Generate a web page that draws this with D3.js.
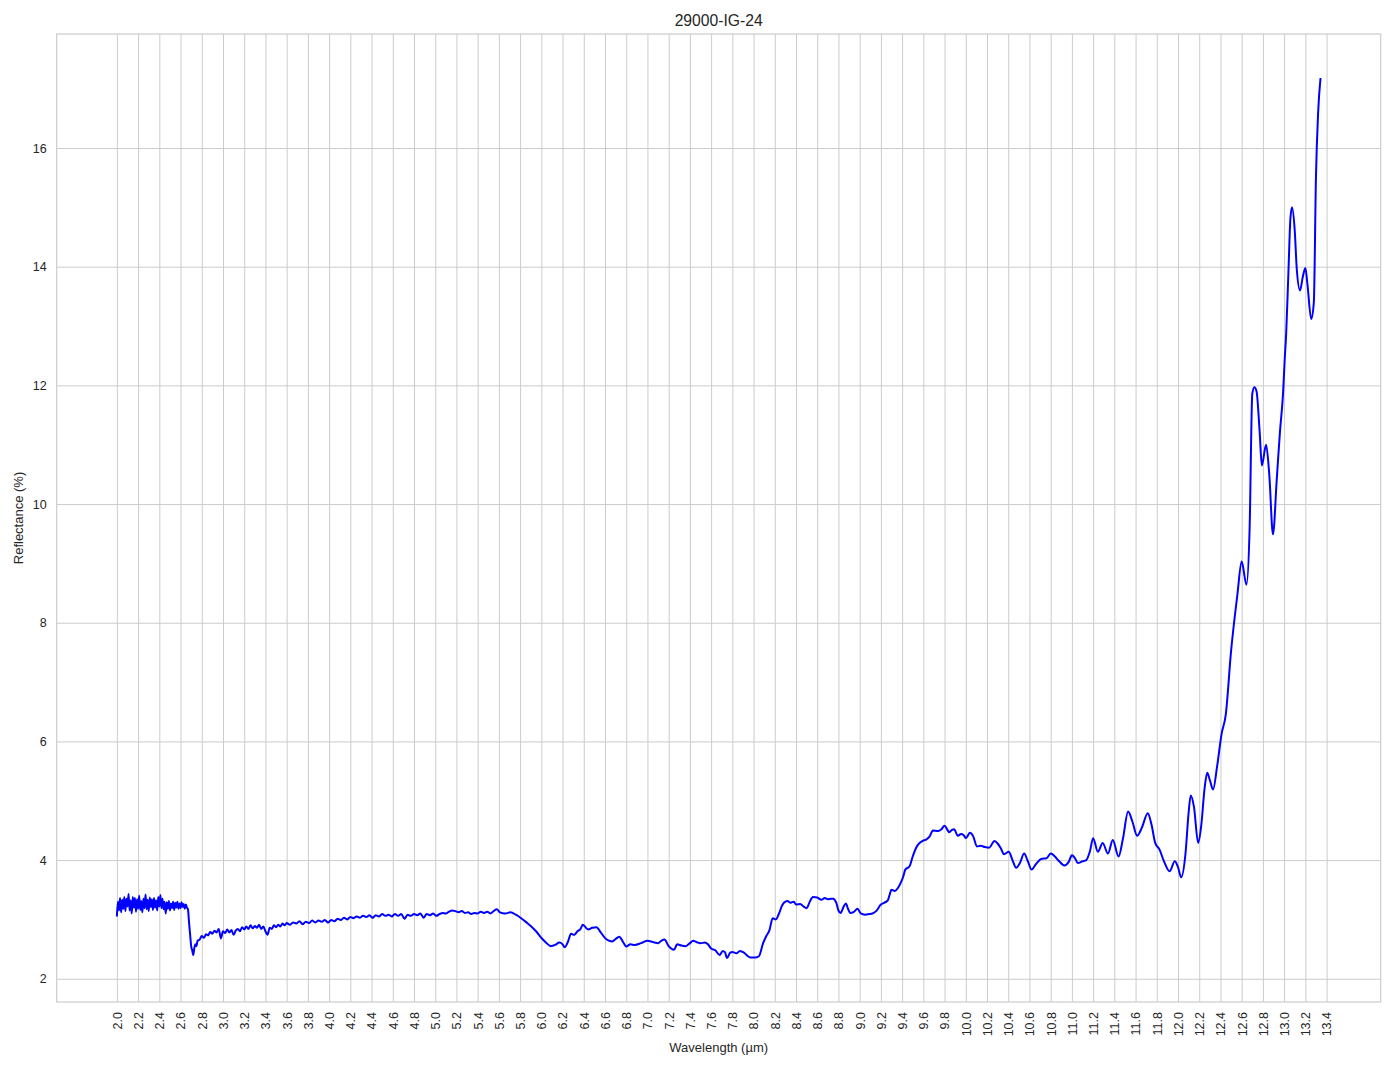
<!DOCTYPE html>
<html>
<head>
<meta charset="utf-8">
<script src="https://cdn.jsdelivr.net/npm/d3@7"></script>
<style>
  html, body { margin: 0; padding: 0; background: #fff; }
  svg { display: block; font-family: "Liberation Sans", Arial, sans-serif; }
</style>
</head>
<body>
<svg id="chart" width="1394" height="1069"></svg>
<script>
// ---------------- DATA ----------------
const chartTitle = "29000-IG-24";
const xLabel = "Wavelength (µm)";
const yLabel = "Reflectance (%)";

const xTickValues = [2.0,2.2,2.4,2.6,2.8,3.0,3.2,3.4,3.6,3.8,4.0,4.2,4.4,4.6,4.8,5.0,5.2,5.4,5.6,5.8,
  6.0,6.2,6.4,6.6,6.8,7.0,7.2,7.4,7.6,7.8,8.0,8.2,8.4,8.6,8.8,9.0,9.2,9.4,9.6,9.8,
  10.0,10.2,10.4,10.6,10.8,11.0,11.2,11.4,11.6,11.8,12.0,12.2,12.4,12.6,12.8,13.0,13.2,13.4];
const yTickValues = [2, 4, 6, 8, 10, 12, 14, 16];

// noisy region 2.0 - 2.76 µm
const wlA = [2.00,2.01,2.02,2.03,2.04,2.05,2.06,2.07,2.08,2.09,2.10,2.11,2.12,2.13,2.14,2.15,2.16,2.17,2.18,2.19,
  2.20,2.21,2.22,2.23,2.24,2.25,2.26,2.27,2.28,2.29,2.30,2.31,2.32,2.33,2.34,2.35,2.36,2.37,2.38,2.39,
  2.40,2.41,2.42,2.43,2.44,2.45,2.46,2.47,2.48,2.49,2.50,2.51,2.52,2.53,2.54,2.55,2.56,2.57,2.58,2.59,
  2.60,2.61,2.62,2.63,2.64,2.65,2.66,2.67,2.68,2.69,2.70,2.71,2.72,2.73,2.74,2.75,2.76];
const rfA = [3.05,3.30,3.15,3.36,3.12,3.33,3.18,3.38,3.14,3.35,3.22,3.43,3.15,3.32,3.10,3.38,3.20,3.36,3.13,3.34,
  3.18,3.40,3.16,3.31,3.12,3.35,3.19,3.42,3.17,3.33,3.14,3.37,3.21,3.34,3.16,3.36,3.20,3.32,3.15,3.38,
  3.22,3.41,3.19,3.35,3.17,3.30,3.10,3.29,3.18,3.31,3.15,3.27,3.19,3.30,3.16,3.28,3.20,3.30,3.18,3.27,
  3.19,3.29,3.21,3.26,3.18,3.25,3.20,3.17,2.95,2.75,2.55,2.48,2.40,2.52,2.58,2.55,2.64];

// mildly noisy region 2.78 - 5.61 µm
const wlB = [2.78,2.80,2.82,2.84,2.86,2.88,2.90,2.92,2.94,2.96,2.98,3.00,3.02,3.04,3.06,3.08,3.10,3.12,3.14,3.16,
  3.18,3.20,3.22,3.24,3.26,3.28,3.30,3.32,3.34,3.36,3.38,3.40,3.42,3.44,3.46,3.48,3.50,3.52,3.54,3.56,3.58,3.60,
  3.63,3.66,3.69,3.72,3.75,3.78,3.81,3.84,3.87,3.90,3.93,3.96,3.99,4.02,4.05,4.08,4.11,4.14,4.17,4.20,
  4.23,4.26,4.29,4.32,4.35,4.38,4.41,4.44,4.47,4.50,4.53,4.56,4.59,4.62,4.65,4.68,4.71,4.74,4.77,4.80,
  4.83,4.86,4.89,4.92,4.95,4.98,5.01,5.04,5.07,5.10,5.13,5.16,5.19,5.22,5.25,5.28,5.31,5.34,5.37,5.40,
  5.43,5.46,5.49,5.52,5.55,5.58,5.61];
const rfB = [2.66,2.72,2.69,2.75,2.73,2.79,2.76,2.81,2.78,2.84,2.68,2.80,2.77,2.83,2.78,2.82,2.74,2.81,2.84,2.80,
  2.87,2.83,2.88,2.84,2.90,2.85,2.89,2.86,2.91,2.84,2.88,2.80,2.74,2.86,2.84,2.90,2.87,2.91,2.88,2.93,2.90,2.94,
  2.91,2.95,2.93,2.97,2.92,2.96,2.94,2.98,2.95,2.98,2.96,2.99,2.95,2.99,2.97,3.01,2.99,3.03,3.00,3.04,
  3.02,3.05,3.03,3.06,3.04,3.07,3.03,3.07,3.05,3.09,3.06,3.08,3.05,3.09,3.06,3.09,3.01,3.08,3.06,3.09,
  3.07,3.10,3.03,3.09,3.07,3.10,3.06,3.09,3.11,3.10,3.13,3.15,3.14,3.12,3.14,3.11,3.12,3.09,3.11,3.10,
  3.13,3.11,3.13,3.10,3.14,3.17,3.12];

// smooth region 5.66 - 13.343 µm
const wlC = [5.66,5.71,5.76,5.81,5.86,5.90,5.95,6.01,6.05,6.09,6.13,6.17,6.20,6.22,6.25,6.28,6.31,6.34,6.37,6.39,
  6.42,6.44,6.48,6.52,6.56,6.61,6.64,6.67,6.70,6.735,6.77,6.80,6.84,6.88,6.94,7.00,7.05,7.10,7.13,7.16,
  7.20,7.25,7.28,7.32,7.36,7.40,7.43,7.46,7.50,7.54,7.57,7.60,7.64,7.68,7.71,7.73,7.75,7.78,7.80,7.84,
  7.87,7.91,7.94,7.97,8.02,8.05,8.09,8.12,8.15,8.18,8.21,8.24,8.27,8.30,8.32,8.35,8.38,8.40,8.44,8.47,
  8.50,8.53,8.56,8.60,8.64,8.67,8.70,8.73,8.75,8.78,8.80,8.82,8.85,8.87,8.89,8.91,8.94,8.98,9.01,9.05,
  9.09,9.12,9.155,9.20,9.23,9.265,9.28,9.30,9.33,9.36,9.39,9.41,9.43,9.47,9.50,9.53,9.55,9.59,9.63,9.66,
  9.69,9.74,9.77,9.80,9.83,9.845,9.87,9.89,9.925,9.955,9.98,10.00,10.04,10.07,10.105,10.14,10.18,10.22,10.27,10.30,
  10.33,10.36,10.405,10.44,10.475,10.51,10.55,10.585,10.62,10.66,10.71,10.76,10.80,10.84,10.88,10.93,10.97,11.00,11.03,11.055,
  11.10,11.135,11.17,11.20,11.245,11.29,11.34,11.385,11.44,11.48,11.53,11.57,11.615,11.66,11.715,11.75,11.785,11.825,11.87,11.92,
  11.97,12.00,12.03,12.07,12.10,12.12,12.15,12.19,12.22,12.25,12.275,12.30,12.33,12.37,12.41,12.45,12.50,12.56,12.60,12.645,
  12.675,12.70,12.72,12.74,12.77,12.79,12.83,12.86,12.895,12.93,12.96,12.99,13.005,13.02,13.04,13.06,13.075,13.10,13.12,13.15,
  13.175,13.20,13.22,13.255,13.28,13.30,13.32,13.343];
const rfC = [3.10,3.12,3.08,3.02,2.95,2.89,2.80,2.67,2.60,2.55,2.57,2.61,2.58,2.53,2.62,2.76,2.74,2.80,2.84,2.91,
  2.86,2.83,2.86,2.87,2.78,2.67,2.64,2.63,2.67,2.71,2.62,2.545,2.58,2.57,2.60,2.64,2.62,2.60,2.64,2.66,
  2.55,2.49,2.58,2.56,2.55,2.60,2.64,2.62,2.60,2.61,2.58,2.51,2.48,2.40,2.47,2.45,2.35,2.44,2.45,2.43,
  2.47,2.44,2.39,2.36,2.36,2.38,2.60,2.72,2.82,3.02,3.00,3.10,3.24,3.30,3.31,3.28,3.30,3.25,3.26,3.22,
  3.19,3.30,3.38,3.37,3.33,3.36,3.34,3.35,3.35,3.28,3.15,3.11,3.22,3.27,3.18,3.11,3.12,3.18,3.10,3.08,
  3.09,3.10,3.14,3.25,3.28,3.32,3.40,3.50,3.48,3.53,3.63,3.72,3.84,3.895,4.06,4.20,4.26,4.32,4.35,4.40,
  4.50,4.49,4.52,4.58,4.50,4.47,4.51,4.52,4.41,4.44,4.42,4.37,4.46,4.40,4.23,4.24,4.22,4.21,4.32,4.28,
  4.20,4.10,4.14,4.00,3.87,3.95,4.11,3.98,3.84,3.93,4.02,4.03,4.11,4.06,3.98,3.91,3.97,4.08,4.03,3.95,
  3.98,4.00,4.15,4.37,4.14,4.29,4.11,4.34,4.06,4.35,4.82,4.65,4.41,4.55,4.79,4.60,4.29,4.18,3.97,3.81,
  3.98,3.88,3.71,4.10,4.80,5.09,4.90,4.29,4.60,5.20,5.47,5.35,5.19,5.60,6.12,6.45,7.52,8.48,9.03,8.64,
  9.60,11.86,11.97,11.90,11.20,10.65,11.00,10.50,9.49,10.40,11.20,11.87,12.42,12.90,13.88,14.83,15.00,14.61,13.94,13.60,
  13.82,13.98,13.70,13.12,13.40,15.51,16.58,17.18];

// ---------------- CHART ----------------
const W = 1394, H = 1069;
const plot = { left: 56.7, right: 1380.7, top: 34, bottom: 1002 };
const gridColor = "#cccccc";
const textColor = "#262626";

const svg = d3.select("#chart");

const series = [];
[[wlA, rfA], [wlB, rfB], [wlC, rfC]].forEach(([w, r]) => {
  w.forEach((v, i) => series.push({ x: v, y: r[i] }));
});

// Domains with matplotlib-like 5% margins
const xExt = d3.extent(series, d => d.x);
const yExt = d3.extent(series, d => d.y);
const xPad = (xExt[1] - xExt[0]) * 0.05;
const yPad = (yExt[1] - yExt[0]) * 0.05;

const x = d3.scaleLinear().domain([xExt[0] - xPad, xExt[1] + xPad]).range([plot.left, plot.right]);
const y = d3.scaleLinear().domain([yExt[0] - yPad, yExt[1] + yPad]).range([plot.bottom, plot.top]);

// background
svg.append("rect").attr("x", 0).attr("y", 0).attr("width", W).attr("height", H).attr("fill", "#fff");

// grid via axes
const xGrid = d3.axisBottom(x).tickValues(xTickValues).tickSize(-(plot.bottom - plot.top)).tickFormat("");
svg.append("g")
  .attr("transform", `translate(0,${plot.bottom})`)
  .call(xGrid)
  .call(g => g.select(".domain").remove())
  .call(g => g.selectAll("line").attr("stroke", gridColor).attr("stroke-width", 1));

const yGrid = d3.axisLeft(y).tickValues(yTickValues).tickSize(-(plot.right - plot.left)).tickFormat("");
svg.append("g")
  .attr("transform", `translate(${plot.left},0)`)
  .call(yGrid)
  .call(g => g.select(".domain").remove())
  .call(g => g.selectAll("line").attr("stroke", gridColor).attr("stroke-width", 1));

// frame
svg.append("rect")
  .attr("x", plot.left).attr("y", plot.top)
  .attr("width", plot.right - plot.left).attr("height", plot.bottom - plot.top)
  .attr("fill", "none").attr("stroke", gridColor).attr("stroke-width", 1.2);

// x tick labels (rotated)
const xAxis = d3.axisBottom(x).tickValues(xTickValues).tickSize(0).tickFormat(d3.format(".1f"));
svg.append("g")
  .attr("transform", `translate(0,${plot.bottom})`)
  .call(xAxis)
  .call(g => g.select(".domain").remove())
  .call(g => g.selectAll("text")
    .attr("transform", "rotate(-90)")
    .attr("x", -10)
    .attr("y", 0)
    .attr("dy", "0.35em")
    .attr("text-anchor", "end")
    .attr("fill", textColor)
    .style("font-size", "12.5px")
    .style("font-family", '"Liberation Sans", Arial, sans-serif'));

// y tick labels
const yAxis = d3.axisLeft(y).tickValues(yTickValues).tickSize(0).tickFormat(d3.format("d"));
svg.append("g")
  .attr("transform", `translate(${plot.left},0)`)
  .call(yAxis)
  .call(g => g.select(".domain").remove())
  .call(g => g.selectAll("text")
    .attr("x", -10)
    .attr("fill", textColor)
    .style("font-size", "12.5px")
    .style("font-family", '"Liberation Sans", Arial, sans-serif'));

// line
const line = d3.line().x(d => x(d.x)).y(d => y(d.y)).curve(d3.curveMonotoneX);
svg.append("path")
  .datum(series)
  .attr("d", line)
  .attr("fill", "none")
  .attr("stroke", "#0000ff")
  .attr("stroke-width", 2)
  .attr("stroke-linejoin", "round");

// title & labels
svg.append("text")
  .attr("x", (plot.left + plot.right) / 2).attr("y", 26)
  .attr("text-anchor", "middle").attr("fill", textColor)
  .style("font-size", "15.7px")
  .text(chartTitle);

svg.append("text")
  .attr("x", (plot.left + plot.right) / 2).attr("y", 1052)
  .attr("text-anchor", "middle").attr("fill", textColor)
  .style("font-size", "13px")
  .text(xLabel);

svg.append("text")
  .attr("transform", `translate(23,${(plot.top + plot.bottom) / 2}) rotate(-90)`)
  .attr("text-anchor", "middle").attr("fill", textColor)
  .style("font-size", "13px")
  .text(yLabel);
</script>
</body>
</html>
